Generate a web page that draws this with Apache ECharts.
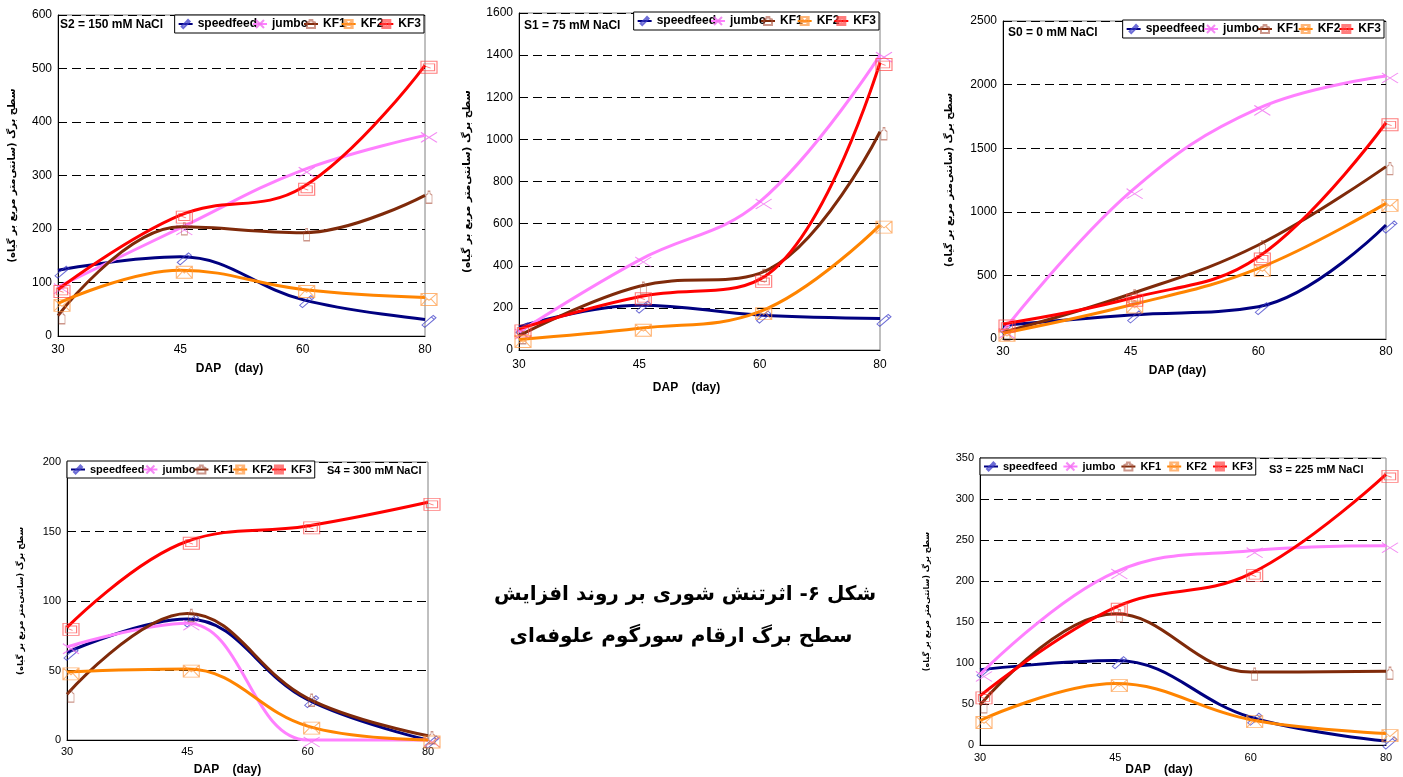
<!DOCTYPE html>
<html>
<head>
<meta charset="utf-8">
<script src="https://cdn.jsdelivr.net/npm/echarts@6/dist/echarts.min.js"></script>
<style>html,body{margin:0;padding:0;background:#fff}#c{width:1403px;height:777px}</style>
</head>
<body>
<div id="c"></div>
<script>
// ---------------- DATA ----------------
const days = ['30', '45', '60', '80'];
const varieties = ['speedfeed', 'jumbo', 'KF1', 'KF2', 'KF3'];

// S2 = 150 mM NaCl (top-left)
const S2_speedfeed = [123, 148, 68, 31];
const S2_jumbo     = [92, 202, 310, 375];
const S2_KF1       = [38, 204, 193, 263];
const S2_KF2       = [61, 123, 87, 72];
const S2_KF3       = [87, 226, 278, 506];

// S1 = 75 mM NaCl (top-middle)
const S1_speedfeed = [110, 213, 166, 150];
const S1_jumbo     = [85, 427, 703, 1400];
const S1_KF1       = [68, 303, 364, 1036];
const S1_KF2       = [50, 103, 182, 593];
const S1_KF3       = [100, 253, 335, 1365];

// S0 = 0 mM NaCl (top-right)
const S0_speedfeed = [108, 189, 254, 896];
const S0_jumbo     = [60, 1158, 1813, 2067];
const S0_KF1       = [52, 354, 739, 1355];
const S0_KF2       = [45, 267, 555, 1066];
const S0_KF3       = [118, 320, 645, 1700];

// S4 = 300 mM NaCl (bottom-left)
const S4_speedfeed = [63, 87, 29, 0];
const S4_jumbo     = [67, 84, 0, 0];
const S4_KF1       = [33, 91, 30, 3];
const S4_KF2       = [49, 51, 10, 0];
const S4_KF3       = [81, 143, 154, 171];

// S3 = 225 mM NaCl (bottom-right)
const S3_speedfeed = [92, 103, 34, 5];
const S3_jumbo     = [86, 211, 237, 243];
const S3_KF1       = [49, 160, 89, 90];
const S3_KF2       = [30, 75, 31, 14];
const S3_KF3       = [60, 168, 209, 330];

const yTicks_S2 = {max: 600, interval: 100};
const yTicks_S1 = {max: 1600, interval: 200};
const yTicks_S0 = {max: 2500, interval: 500};
const yTicks_S4 = {max: 200, interval: 50};
const yTicks_S3 = {max: 350, interval: 50};

// ---------------- STYLE ----------------
const FONT = '"Liberation Sans", Arial, sans-serif';
const FA = '"DejaVu Sans", sans-serif';
const yName = 'سطح برگ (سانتی‌متر مربع بر گیاه)';
const caption1 = 'شکل ۶- اثرتنش شوری بر روند افزایش';
const caption2 = 'سطح برگ ارقام سورگوم علوفه‌ای';

const lineColors = {speedfeed: '#000080', jumbo: '#FF80FF', KF1: '#7F2A0A', KF2: '#FF8400', KF3: '#FF0000'};
const markColors = {speedfeed: 'rgba(60,60,200,0.75)', jumbo: 'rgba(240,110,240,0.8)', KF1: 'rgba(170,80,60,0.6)', KF2: 'rgba(255,150,60,0.7)', KF3: 'rgba(255,70,70,0.7)'};
const symbols = {
  speedfeed: 'path://M0,12 L10,2 L13,5 L3,15 Z M10,2 L12,0 L15,3 L13,5',
  jumbo: 'path://M0,0 L18,10 M0,10 L18,0 M0,0 L3,2 M0,10 L3,8',
  KF1: 'path://M3,0 L5,0 L5,3 L7,5 L7,16 L1,16 L1,5 L3,3 Z',
  KF2: 'path://M0,0 L20,0 L20,14 L0,14 Z M0,0 L10,8 L20,0 M0,14 L8,6 M20,14 L12,6',
  KF3: 'path://M0,0 L20,0 L20,14 L0,14 Z M3,3 L17,3 L17,11 L3,11 Z M6,6 L12,8'
};
const symSizes = {speedfeed: [14, 12], jumbo: [16, 10], KF1: [6, 12], KF2: [16, 12], KF3: [16, 12]};

const panels = [
  {title: 'S2 = 150 mM NaCl', data: [S2_speedfeed, S2_jumbo, S2_KF1, S2_KF2, S2_KF3], y: yTicks_S2,
   grid: {left: 58, top: 15, width: 367, height: 321}, titlePos: {left: 60, top: 19}, tfs: 12,
   legend: {right: 979, top: 15}, fs: 12, lfs: 12, lgap: -5, xMargin: 8, xName: 'DAP    (day)', xNameGap: 27, xNamePad: [0, 24, 0, 0],
   yNameGap: 41, yNameSize: 10},
  {title: 'S1 = 75 mM NaCl', data: [S1_speedfeed, S1_jumbo, S1_KF1, S1_KF2, S1_KF3], y: yTicks_S1,
   grid: {left: 519, top: 13, width: 361, height: 337}, titlePos: {left: 524, top: 20}, tfs: 12,
   legend: {right: 524, top: 12}, fs: 12, lfs: 12, lgap: -6, xMargin: 9, xName: 'DAP    (day)', xNameGap: 32, xNamePad: [0, 26, 0, 0],
   yNameGap: 46, yNameSize: 10.5},
  {title: 'S0 = 0 mM NaCl', data: [S0_speedfeed, S0_jumbo, S0_KF1, S0_KF2, S0_KF3], y: yTicks_S0,
   grid: {left: 1003, top: 21, width: 383, height: 318}, titlePos: {left: 1008, top: 27}, tfs: 12,
   legend: {right: 19, top: 20}, fs: 12, lfs: 12, lgap: -2, xMargin: 7, xName: 'DAP (day)', xNameGap: 26, xNamePad: [0, 34, 0, 0],
   yNameGap: 49, yNameSize: 10},
  {title: 'S4 = 300 mM NaCl', data: [S4_speedfeed, S4_jumbo, S4_KF1, S4_KF2, S4_KF3], y: yTicks_S4,
   grid: {left: 67, top: 462, width: 361, height: 279}, titlePos: {left: 327, top: 465}, tfs: 11,
   legend: {left: 67, top: 461}, fs: 11, lfs: 11, lgap: -2, xMargin: 6, xName: 'DAP    (day)', xNameGap: 24, xNamePad: [0, 40, 0, 0],
   yNameGap: 42, yNameSize: 8.5},
  {title: 'S3 = 225 mM NaCl', data: [S3_speedfeed, S3_jumbo, S3_KF1, S3_KF2, S3_KF3], y: yTicks_S3,
   grid: {left: 980, top: 458, width: 406, height: 290}, titlePos: {left: 1269, top: 464}, tfs: 11,
   legend: {left: 980, top: 458}, fs: 11, lfs: 11, lgap: 5, xMargin: 7, xName: 'DAP    (day)', xNameGap: 18, xNamePad: [0, 48, 0, 0],
   yNameGap: 49, yNameSize: 8}
];

const option = {
  animation: false,
  backgroundColor: '#fff',
  title: [], legend: [], grid: [], xAxis: [], yAxis: [], series: [],
  graphic: [
    {type: 'text', style: {text: caption1, x: 685, y: 595, textAlign: 'center', textVerticalAlign: 'middle',
      font: 'bold 20px ' + FA, fill: '#000'}},
    {type: 'text', style: {text: caption2, x: 681, y: 637, textAlign: 'center', textVerticalAlign: 'middle',
      font: 'bold 20px ' + FA, fill: '#000'}}
  ]
};

panels.forEach((p, i) => {
  option.grid.push(Object.assign({show: true, borderColor: '#808080', borderWidth: 1, backgroundColor: 'transparent', containLabel: false}, p.grid));
  option.title.push(Object.assign({text: p.title, padding: 0,
    textStyle: {fontFamily: FONT, fontSize: p.tfs, fontWeight: 'bold', color: '#000'}}, p.titlePos));
  option.legend.push(Object.assign({
    data: varieties, orient: 'horizontal', itemWidth: 14, itemHeight: 10, itemGap: p.lgap,
    padding: [3, 3], borderColor: '#000', borderWidth: 1, backgroundColor: '#fff',
    textStyle: {fontFamily: FONT, fontSize: p.lfs, fontWeight: 'bold', color: '#000'}
  }, p.legend));
  option.xAxis.push({
    gridIndex: i, type: 'category', data: days, boundaryGap: false,
    axisLine: {lineStyle: {color: '#000', width: 1}}, axisTick: {show: false},
    axisLabel: {fontFamily: FONT, fontSize: p.fs, color: '#000', margin: p.xMargin},
    splitLine: {show: false},
    name: p.xName, nameLocation: 'middle', nameGap: p.xNameGap,
    nameTextStyle: {fontFamily: FONT, fontSize: 12, fontWeight: 'bold', color: '#000', padding: p.xNamePad}
  });
  option.yAxis.push({
    gridIndex: i, type: 'value', min: 0, max: p.y.max, interval: p.y.interval,
    axisLine: {show: true, lineStyle: {color: '#000', width: 1}}, axisTick: {show: false},
    axisLabel: {fontFamily: FONT, fontSize: p.fs, color: '#000', margin: 6, formatter: (v) => String(v)},
    splitLine: {show: true, lineStyle: {color: '#000', width: 1, type: [9, 5]}},
    name: yName, nameLocation: 'middle', nameGap: p.yNameGap,
    nameTextStyle: {fontFamily: FA, fontSize: p.yNameSize, fontWeight: 'bold', color: '#000'}
  });
  varieties.forEach((v, k) => {
    option.series.push({
      type: 'line', name: v, xAxisIndex: i, yAxisIndex: i,
      data: p.data[k], smooth: 0.4, clip: false,
      symbol: symbols[v], symbolSize: symSizes[v], symbolOffset: [4, 2], showSymbol: true,
      lineStyle: {color: lineColors[v], width: 3},
      itemStyle: {color: 'rgba(255,255,255,0)', borderColor: markColors[v], borderWidth: 1},
      emphasis: {disabled: true}, z: 2 + k
    });
  });
});

const chart = echarts.init(document.getElementById('c'), null, {renderer: 'canvas'});
chart.setOption(option);
</script>
</body>
</html>
